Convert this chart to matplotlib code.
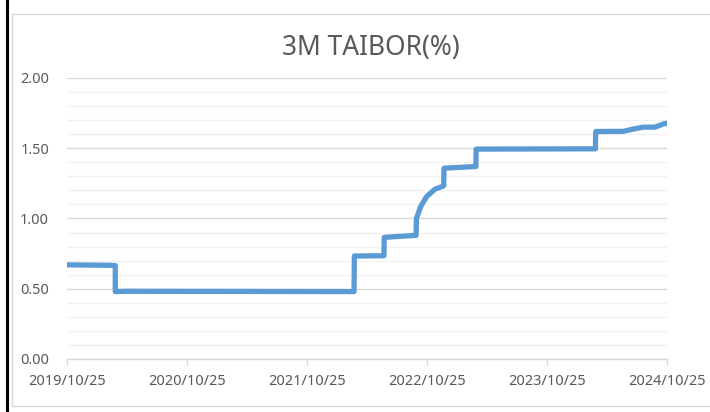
import numpy as np
import pandas as pd
import matplotlib
matplotlib.use('Agg')
import matplotlib.pyplot as plt
from matplotlib.lines import Line2D
from matplotlib.patches import Rectangle

# 3M TAIBOR readings; repeated dates make the jumps
dates = ['2019-10-25', '2020-03-04', '2020-03-20', '2020-03-20', '2020-04-20',
         '2022-03-17', '2022-03-18', '2022-06-16', '2022-06-17', '2022-09-22',
         '2022-09-23', '2022-10-06', '2022-10-24', '2022-11-18', '2022-12-15',
         '2022-12-16', '2023-03-23', '2023-03-24', '2024-03-21', '2024-03-22',
         '2024-06-13', '2024-07-13', '2024-08-13', '2024-09-18', '2024-10-13',
         '2024-10-25']
rates = [0.670, 0.667, 0.665, 0.480, 0.482,
         0.480, 0.733, 0.735, 0.866, 0.880,
         1.000, 1.085, 1.156, 1.208, 1.232,
         1.358, 1.370, 1.494, 1.496, 1.619,
         1.620, 1.636, 1.650, 1.650, 1.672,
         1.679]
tick_dates = ['2019-10-25', '2020-10-25', '2021-10-25', '2022-10-25',
              '2023-10-25', '2024-10-25']
tick_labels = ['2019/10/25', '2020/10/25', '2021/10/25', '2022/10/25',
               '2023/10/25', '2024/10/25']

plt.rcParams['font.family'] = ['Noto Sans', 'DejaVu Sans']
txt_col = '#595959'
grid_major = '#D9D9D9'
grid_minor = '#F2F2F2'

fig = plt.figure(figsize=(7.1, 4.12), dpi=100)
ax = fig.add_axes([67 / 710, 53 / 412, 600 / 710, 281 / 412])

x = pd.to_datetime(dates)
ax.plot(x, rates, color='#5B9BD5', lw=3.8, solid_capstyle='round',
        solid_joinstyle='round', zorder=3)

ax.set_xlim(pd.Timestamp(tick_dates[0]), pd.Timestamp(tick_dates[-1]))
ax.set_ylim(0, 2.0)

ax.set_xticks(pd.to_datetime(tick_dates))
ax.set_xticklabels(tick_labels)
ax.set_yticks(np.arange(0, 2.01, 0.5))
ax.set_yticklabels(['%.2f' % v for v in np.arange(0, 2.01, 0.5)])
ax.set_yticks(np.arange(0, 2.01, 0.1), minor=True)

ax.grid(axis='y', which='major', color=grid_major, lw=1.0, zorder=0)
ax.grid(axis='y', which='minor', color=grid_minor, lw=1.0, zorder=0)
ax.set_axisbelow(True)

for s in ['top', 'right', 'left']:
    ax.spines[s].set_visible(False)
ax.spines['bottom'].set_color(grid_major)
ax.spines['bottom'].set_linewidth(1.0)

ax.tick_params(axis='x', which='major', length=4, width=1, color=grid_major,
               labelsize=10.5, labelcolor=txt_col, pad=7)
ax.tick_params(axis='y', which='both', length=0, labelsize=10.5,
               labelcolor=txt_col, pad=13)

fig.text(0.523, 0.883, '3M TAIBOR(%)', ha='center', va='center',
         fontsize=19, color=txt_col)

# chart-area border and the dark line at the left edge
fig.patches.append(Rectangle((11.5 / 710, 6 / 412), 710 / 710, 392 / 412,
                             transform=fig.transFigure, fill=False,
                             edgecolor=grid_major, lw=1.0))
fig.lines.append(Line2D([7 / 710, 7 / 710], [0, 1], transform=fig.transFigure,
                        color='black', lw=2.2))

fig.savefig('out.png', dpi=100)
